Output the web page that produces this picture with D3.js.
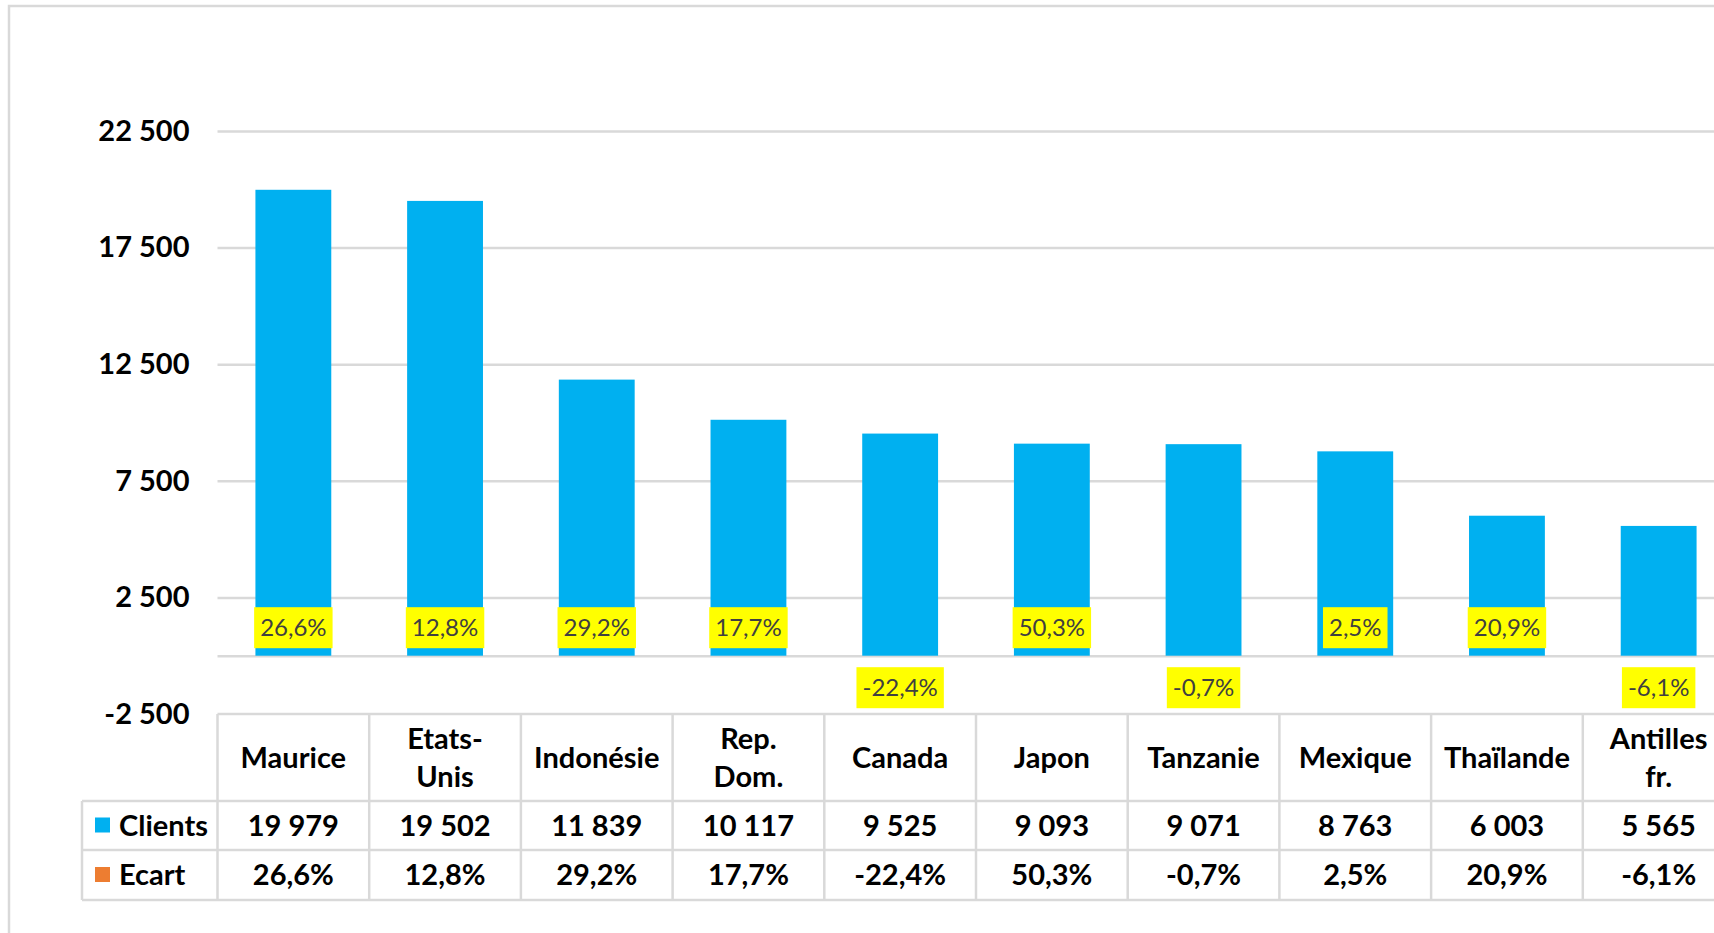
<!DOCTYPE html>
<html>
<head>
<meta charset="utf-8">
<script src="https://cdn.jsdelivr.net/npm/d3@7"></script>
<style>
    body { margin: 0; background: #fff; }
    text { font-family: Lato, "Open Sans", sans-serif; }
</style>
</head>
<body>
<div id="chart"></div>
<script>
// Data
let countries = ['Maurice', 'Etats-Unis', 'Indonésie', 'Rep. Dom.', 'Canada', 'Japon', 'Tanzanie', 'Mexique', 'Thaïlande', 'Antilles fr.'];
let countryLines = [['Maurice'], ['Etats-', 'Unis'], ['Indonésie'], ['Rep.', 'Dom.'], ['Canada'], ['Japon'], ['Tanzanie'], ['Mexique'], ['Thaïlande'], ['Antilles', 'fr.']];
let clients = [19979, 19502, 11839, 10117, 9525, 9093, 9071, 8763, 6003, 5565];
let ecart = [26.6, 12.8, 29.2, 17.7, -22.4, 50.3, -0.7, 2.5, 20.9, -6.1];
let yTicks = [-2500, 2500, 7500, 12500, 17500, 22500];
let gridTicks = [0, 2500, 7500, 12500, 17500, 22500];
let seriesNames = ['Clients', 'Ecart'];
let seriesColors = ['#00B0F0', '#ED7D31'];

let svgWidth = 1714;
let svgHeight = 933;

let plotLeft = 217.5;
let step = 151.7;
let legendLeft = 82;
let rowTops = [714, 801, 850, 900];
let gridColor = '#d9d9d9';

let fr = d3.formatLocale({ decimal: ',', thousands: ' ', grouping: [3], currency: ['', ' €'], minus: '-' });
let numFmt = fr.format(',d');
let pctFmt = v => fr.format('.1f')(v) + '%';

let svg = d3.select('#chart')
    .append('svg')
    .attr('width', svgWidth)
    .attr('height', svgHeight);

// Scales
let x = d3.scaleBand()
    .domain(countries)
    .range([plotLeft, plotLeft + step * countries.length])
    .paddingInner(0.5)
    .paddingOuter(0.25);

let y = d3.scaleLinear()
    .domain([-2500, 22500])
    .range([rowTops[0], 131]);

let cellLeft = c => x(c) - x.step() * x.paddingInner() / 2;
let cellMid = c => x(c) + x.bandwidth() / 2;

// Outer chart border (cropped on right and bottom)
svg.append('path')
    .attr('d', `M9,${svgHeight} V6 H${svgWidth}`)
    .attr('fill', 'none')
    .attr('stroke', gridColor)
    .attr('stroke-width', 2.5);

// Gridlines
let grid = svg.append('g')
    .attr('transform', `translate(${plotLeft}, 0)`)
    .call(d3.axisLeft(y).tickValues(gridTicks).tickSize(-(svgWidth - plotLeft)).tickFormat(''));
grid.select('.domain').remove();
grid.selectAll('line').attr('stroke', gridColor).attr('stroke-width', 2.5);

// Y axis labels
let yAxis = svg.append('g')
    .attr('transform', `translate(${plotLeft - 28}, 0)`)
    .call(d3.axisLeft(y).tickValues(yTicks).tickSize(0).tickPadding(0).tickFormat(numFmt));
yAxis.select('.domain').remove();
yAxis.selectAll('text')
    .attr('font-size', 29)
    .attr('font-weight', 'bold')
    .attr('fill', '#000')
    .style('font-family', 'Lato, "Open Sans", sans-serif');

// Bars
svg.append('g')
    .selectAll('rect')
    .data(countries)
    .enter()
    .append('rect')
    .attr('x', d => x(d))
    .attr('width', x.bandwidth())
    .attr('y', (d, i) => y(clients[i]))
    .attr('height', (d, i) => y(0) - y(clients[i]))
    .attr('fill', seriesColors[0]);

// Ecart data labels in yellow boxes
let labels = svg.append('g')
    .selectAll('g')
    .data(countries)
    .enter()
    .append('g')
    .attr('transform', (d, i) => `translate(${cellMid(d)}, ${ecart[i] >= 0 ? y(0) - 28 : y(0) + 32})`);

let labelText = labels.append('text')
    .attr('text-anchor', 'middle')
    .attr('dy', '0.35em')
    .attr('font-size', 24)
    .attr('fill', '#404040')
    .text((d, i) => pctFmt(ecart[i]));

labels.each(function() {
    let g = d3.select(this);
    let bb = g.select('text').node().getBBox();
    g.insert('rect', 'text')
        .attr('x', bb.x - 6)
        .attr('y', -20.5)
        .attr('width', bb.width + 12)
        .attr('height', 41)
        .attr('fill', '#FFFF00');
});

// Data table
let table = svg.append('g');

// horizontal lines
table.append('line')
    .attr('x1', plotLeft).attr('x2', svgWidth)
    .attr('y1', rowTops[0]).attr('y2', rowTops[0]);
rowTops.slice(1).forEach(t => {
    table.append('line')
        .attr('x1', legendLeft).attr('x2', svgWidth)
        .attr('y1', t).attr('y2', t);
});
// vertical lines
table.append('line')
    .attr('x1', legendLeft).attr('x2', legendLeft)
    .attr('y1', rowTops[1]).attr('y2', rowTops[3]);
countries.forEach(c => {
    table.append('line')
        .attr('x1', cellLeft(c)).attr('x2', cellLeft(c))
        .attr('y1', rowTops[0]).attr('y2', rowTops[3]);
});
table.selectAll('line')
    .attr('stroke', gridColor)
    .attr('stroke-width', 2.5);

// header row: country names
let headerMid = (rowTops[0] + rowTops[1]) / 2;
countries.forEach((c, i) => {
    let lines = countryLines[i];
    let t = table.append('text')
        .attr('x', cellMid(c))
        .attr('text-anchor', 'middle')
        .attr('font-size', 29)
        .attr('font-weight', 'bold')
        .attr('fill', '#000');
    lines.forEach((l, j) => {
        t.append('tspan')
            .attr('x', cellMid(c))
            .attr('y', headerMid + (j - (lines.length - 1) / 2) * 38)
            .attr('dy', '0.35em')
            .text(l);
    });
});

// series rows
let rowValues = [clients.map(numFmt), ecart.map(pctFmt)];
seriesNames.forEach((name, r) => {
    let mid = (rowTops[r + 1] + rowTops[r + 2]) / 2;

    table.append('rect')
        .attr('x', 95)
        .attr('y', mid - 8)
        .attr('width', 15)
        .attr('height', 15)
        .attr('fill', seriesColors[r]);

    table.append('text')
        .attr('x', 119)
        .attr('y', mid)
        .attr('dy', '0.35em')
        .attr('font-size', 29)
        .attr('font-weight', 'bold')
        .attr('fill', '#000')
        .text(name);

    countries.forEach((c, i) => {
        table.append('text')
            .attr('x', cellMid(c))
            .attr('y', mid)
            .attr('dy', '0.35em')
            .attr('text-anchor', 'middle')
            .attr('font-size', 29)
            .attr('font-weight', 'bold')
            .attr('fill', '#000')
            .text(rowValues[r][i]);
    });
});
</script>
</body>
</html>
